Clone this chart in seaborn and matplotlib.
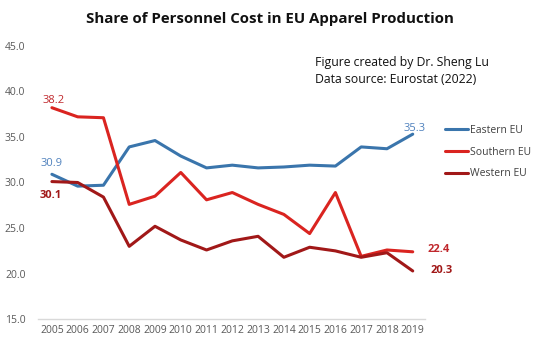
import matplotlib
matplotlib.use("Agg")
import matplotlib.pyplot as plt
import seaborn as sns
import pandas as pd
from matplotlib.lines import Line2D

years = [2005, 2006, 2007, 2008, 2009, 2010, 2011, 2012, 2013, 2014, 2015, 2016, 2017, 2018, 2019]
eastern = [30.9, 29.6, 29.7, 33.9, 34.6, 32.9, 31.6, 31.9, 31.6, 31.7, 31.9, 31.8, 33.9, 33.7, 35.3]
southern = [38.2, 37.2, 37.1, 27.6, 28.5, 31.1, 28.1, 28.9, 27.6, 26.5, 24.4, 28.9, 21.9, 22.6, 22.4]
western = [30.1, 30.0, 28.4, 23.0, 25.2, 23.7, 22.6, 23.6, 24.1, 21.8, 22.9, 22.5, 21.8, 22.3, 20.3]
series_names = ["Eastern EU", "Southern EU", "Western EU"]
yticks = [15.0, 20.0, 25.0, 30.0, 35.0, 40.0, 45.0]

colors = {"Eastern EU": "#3A75AC", "Southern EU": "#DA2420", "Western EU": "#A11818"}

df = pd.DataFrame({
    "Year": years * 3,
    "Share": eastern + southern + western,
    "Region": [series_names[0]] * len(years) + [series_names[1]] * len(years) + [series_names[2]] * len(years),
})

sns.set_theme(style="white")
plt.rcParams["font.family"] = ["Open Sans", "DejaVu Sans"]

fig = plt.figure(figsize=(5.45, 3.49), dpi=100)
ax = fig.add_axes([0.0697, 0.0851, 0.7103, 0.784])
sns.lineplot(data=df, x="Year", y="Share", hue="Region", palette=colors, linewidth=2.2, ax=ax, legend=False)

ax.set_xlim(years[0] - 0.54, years[-1] + 0.48)
ax.set_ylim(15, 45)
ax.set_yticks(yticks)
ax.set_yticklabels([f"{v:.1f}" for v in yticks], fontsize=7.5, color="#595959")
ax.set_xticks(years)
ax.set_xticklabels([str(y) for y in years], fontsize=7.5, color="#595959")
ax.tick_params(axis="both", length=0, pad=4)
ax.tick_params(axis="y", pad=9)
ax.set_xlabel("")
ax.set_ylabel("")
for s in ["top", "right", "left"]:
    ax.spines[s].set_visible(False)
ax.spines["bottom"].set_color("#D9D9D9")
ax.spines["bottom"].set_linewidth(1.0)

# data labels
lab_fs = 8
ax.annotate(f"{eastern[0]:.1f}", (years[0], eastern[0]), xytext=(0, 4), textcoords="offset points",
            ha="center", va="bottom", fontsize=lab_fs, color="#4F81BD")
ax.annotate(f"{southern[0]:.1f}", (years[0], southern[0]), xytext=(1.5, 1), textcoords="offset points",
            ha="center", va="bottom", fontsize=lab_fs, color="#C0282D")
ax.annotate(f"{western[0]:.1f}", (years[0], western[0]), xytext=(-1, -6), textcoords="offset points",
            ha="center", va="top", fontsize=lab_fs, color="#A11818", fontweight="bold")
ax.annotate(f"{eastern[-1]:.1f}", (years[-1], eastern[-1]), xytext=(1, 0), textcoords="offset points",
            ha="center", va="bottom", fontsize=lab_fs, color="#4F81BD")
ax.annotate(f"{southern[-1]:.1f}", (years[-1], southern[-1]), xytext=(11, 1.5), textcoords="offset points",
            ha="left", va="center", fontsize=lab_fs, color="#C0282D", fontweight="bold")
ax.annotate(f"{western[-1]:.1f}", (years[-1], western[-1]), xytext=(13, 0.5), textcoords="offset points",
            ha="left", va="center", fontsize=lab_fs, color="#A11818", fontweight="bold")

# legend
handles = [Line2D([0], [0], color=colors[n], lw=2.2) for n in series_names]
leg = fig.legend(handles, series_names, loc="upper left", bbox_to_anchor=(0.808, 0.655), frameon=False,
                 fontsize=7.5, handlelength=2.3, handletextpad=0.15, labelspacing=1.05, borderaxespad=0)
for t in leg.get_texts():
    t.set_color("#404040")

fig.text(0.495, 0.945, "Share of Personnel Cost in EU Apparel Production", ha="center", va="center",
         fontsize=10.8, fontweight="bold", color="#111111")
fig.text(0.578, 0.797, "Figure created by Dr. Sheng Lu\nData source: Eurostat (2022)", ha="left", va="center",
         fontsize=8.8, color="#111111", linespacing=1.4)

fig.savefig("out.png", dpi=100, facecolor="white")
